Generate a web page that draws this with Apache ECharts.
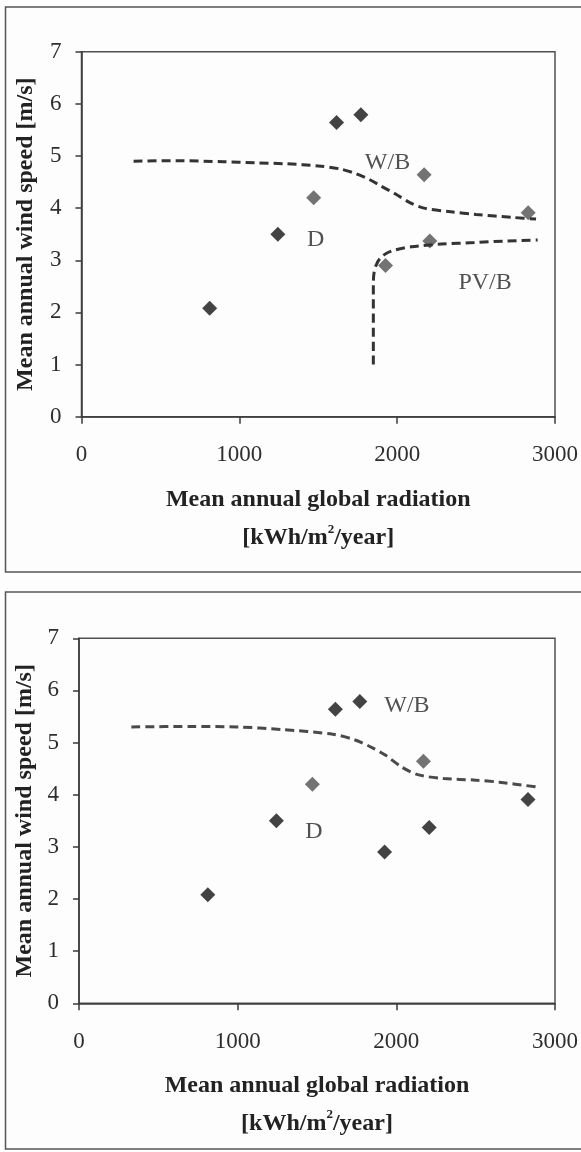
<!DOCTYPE html>
<html><head><meta charset="utf-8">
<script src="https://cdn.jsdelivr.net/npm/echarts@6/dist/echarts.min.js"></script>
<style>html,body{margin:0;padding:0;background:#fdfdfd}#c{width:581px;height:1152px}</style>
</head><body><div id="c"></div>
<script>
// Sites: mean annual global radiation [kWh/m2/year] vs mean annual wind speed [m/s]
const radiation = [812, 1244, 1471, 1616, 1770, 1926, 2171, 2207, 2830];
const windSpeed = [2.08, 3.50, 4.20, 5.64, 5.79, 2.90, 4.64, 3.37, 3.91];
// sites shown in grey (true) or black (false) in each panel
const greyTop = [false, false, true, false, false, true, true, true, true];
const greyBottom = [false, false, true, false, false, false, true, false, false];

// region boundaries
const wbBoundaryTop = [[330,4.90],[600,4.91],[900,4.89],[1100,4.87],[1300,4.85],[1500,4.81],[1640,4.75],[1740,4.66],[1830,4.54],[1900,4.42],[1990,4.27],[2090,4.09],[2170,4.00],[2340,3.93],[2500,3.88],[2740,3.82],[2880,3.79]];
const pvbBoundaryTop = [[1849,1.0],[1849,2.55],[1853,2.75],[1866,2.90],[1890,3.03],[1930,3.13],[1990,3.20],[2090,3.26],[2280,3.31],[2490,3.34],[2700,3.37],[2890,3.39]];
const wbBoundaryBottom = [[330,5.30],[700,5.31],[1000,5.30],[1280,5.25],[1600,5.16],[1740,5.05],[1850,4.90],[1930,4.76],[2040,4.52],[2140,4.38],[2300,4.31],[2500,4.28],[2650,4.24],[2880,4.15]];

// region names with their anchor values
const regionLabelsTop = [['W/B', 1939, 4.88], ['D', 1483, 3.40], ['PV/B', 2557, 2.57]];
const regionLabelsBottom = [['W/B', 2067, 5.70], ['D', 1480, 3.29]];

const xMin = 0, xMax = 3000, xStep = 1000;
const yMin = 0, yMax = 7, yStep = 1;

const serif = '"Liberation Serif", "Times New Roman", serif';
const tickColor = '#2e2e2e';
const titleColor = '#222';

function makeX(idx) {
  return {
    gridIndex: idx, type: 'value', min: xMin, max: xMax, interval: xStep,
    name: '{t|Mean annual global radiation}\n{t|[kWh/m}{s|2}{t|/year]}',
    nameLocation: 'middle', nameGap: idx === 0 ? 64 : 63,
    nameTextStyle: {
      rich: {
        t: { fontFamily: serif, fontWeight: 'bold', fontSize: 24, color: titleColor, lineHeight: 38 },
        s: { fontFamily: serif, fontWeight: 'bold', fontSize: 13, color: titleColor, lineHeight: 13, verticalAlign: 'top', padding: [4, 0, 0, 0] }
      }
    },
    axisLine: { lineStyle: { color: '#3a3a3a', width: 1.5 } },
    axisTick: { show: true, length: 7, lineStyle: { color: '#3a3a3a', width: 1.5 } },
    axisLabel: { fontFamily: serif, fontSize: 23, color: tickColor, margin: 27, formatter: v => String(v) },
    splitLine: { show: false }
  };
}
function makeY(idx) {
  return {
    gridIndex: idx, type: 'value', min: yMin, max: yMax, interval: yStep,
    name: 'Mean annual wind speed [m/s]',
    nameLocation: 'middle', nameGap: idx === 0 ? 44 : 42,
    nameTextStyle: { fontFamily: serif, fontWeight: 'bold', fontSize: 24, color: titleColor },
    axisLine: { lineStyle: { color: '#3a3a3a', width: 1.5 } },
    axisTick: { show: true, length: 6, lineStyle: { color: '#3a3a3a', width: 1.5 } },
    axisLabel: { fontFamily: serif, fontSize: 23, color: tickColor, margin: 20, formatter: v => String(v) },
    splitLine: { show: false }
  };
}
function points(grey, idx) {
  return {
    type: 'scatter', xAxisIndex: idx, yAxisIndex: idx,
    symbol: 'diamond', symbolSize: 15, z: 3,
    data: radiation.map((x, i) => ({
      value: [x, windSpeed[i]],
      itemStyle: { color: grey[i] ? '#505050' : '#141414' }
    }))
  };
}
function boundary(data, idx, color) {
  return {
    type: 'line', xAxisIndex: idx, yAxisIndex: idx, data: data,
    showSymbol: false, smooth: 0.3, z: 4,
    lineStyle: { color: color, width: 3, type: [9, 5] }
  };
}
function names(list, idx) {
  return {
    type: 'scatter', xAxisIndex: idx, yAxisIndex: idx, symbolSize: 0, z: 5,
    data: list.map(d => ({ name: d[0], value: [d[1], d[2]] })),
    label: { show: true, position: 'inside', formatter: '{b}', fontFamily: serif, fontSize: 24, color: '#262626' }
  };
}

const chart = echarts.init(document.getElementById('c'), null, { renderer: 'canvas' });
chart.setOption({
  backgroundColor: '#fdfdfd',
  animation: false,
  graphic: [
    { type: 'rect', shape: { x: 5.5, y: 7, width: 600, height: 565 }, style: { fill: 'none', stroke: '#555', lineWidth: 1.5 } },
    { type: 'rect', shape: { x: 5.5, y: 592, width: 600, height: 557 }, style: { fill: 'none', stroke: '#555', lineWidth: 1.5 } }
  ],
  grid: [
    { left: 81.5, top: 51.7, width: 476, height: 365, show: true, borderColor: '#505050', borderWidth: 1.5, backgroundColor: 'transparent' },
    { left: 79, top: 638.3, width: 477, height: 365, show: true, borderColor: '#505050', borderWidth: 1.5, backgroundColor: 'transparent' }
  ],
  xAxis: [makeX(0), makeX(1)],
  yAxis: [makeY(0), makeY(1)],
  series: [
    points(greyTop, 0),
    boundary(wbBoundaryTop, 0, '#333333'),
    boundary(pvbBoundaryTop, 0, '#333333'),
    names(regionLabelsTop, 0),
    points(greyBottom, 1),
    boundary(wbBoundaryBottom, 1, '#4a4a4a'),
    names(regionLabelsBottom, 1)
  ]
});
</script>
</body></html>
